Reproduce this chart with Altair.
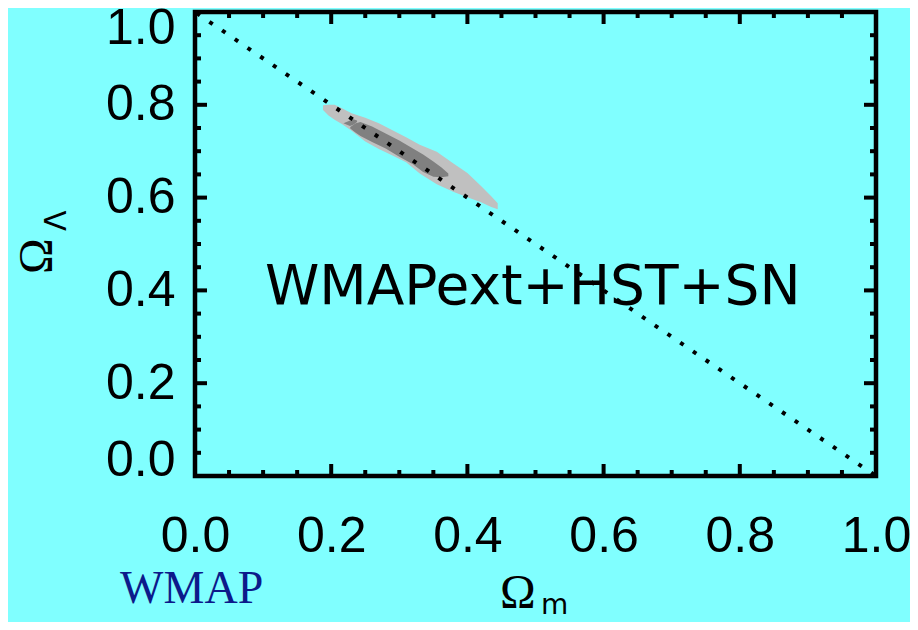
import altair as alt
import pandas as pd

# ---- data ----
outer_x = [0.188, 0.196, 0.205, 0.215, 0.230, 0.250, 0.270, 0.290, 0.310, 0.330, 0.355, 0.380, 0.400, 0.420, 0.435, 0.4445]
outer_top = [0.799, 0.800, 0.800, 0.793, 0.782, 0.772, 0.760, 0.745, 0.730, 0.714, 0.699, 0.673, 0.653, 0.625, 0.603, 0.588]
outer_bot = [0.789, 0.777, 0.768, 0.759, 0.744, 0.721, 0.705, 0.691, 0.676, 0.652, 0.629, 0.612, 0.601, 0.590, 0.580, 0.575]

inner_x = [0.228, 0.236, 0.243, 0.260, 0.280, 0.300, 0.320, 0.335, 0.350, 0.362, 0.372]
inner_top = [0.752, 0.760, 0.763, 0.753, 0.738, 0.723, 0.706, 0.693, 0.678, 0.665, 0.652]
inner_bot = [0.749, 0.740, 0.733, 0.720, 0.706, 0.688, 0.672, 0.655, 0.645, 0.644, 0.646]

piece_x = [0.218, 0.2276, 0.2325, 0.238]
piece_top = [0.760, 0.766, 0.769, 0.766]
piece_bot = [0.760, 0.7545, 0.757, 0.763]

flat_x = [0.0, 1.0]
flat_y = [1.0, 0.0]

tick_labels = [0.0, 0.2, 0.4, 0.6, 0.8, 1.0]
major_ticks = [0.0, 0.2, 0.4, 0.6, 0.8, 1.0]
minor_ticks = [0.05, 0.10, 0.15, 0.25, 0.30, 0.35, 0.45, 0.50, 0.55,
               0.65, 0.70, 0.75, 0.85, 0.90, 0.95]

W, H = 681, 464
FONT = "DejaVu Sans"
LFONT = "Liberation Sans"
BG = "#80ffff"

outer_df = pd.DataFrame({"x": outer_x, "top": outer_top, "bot": outer_bot})
inner_df = pd.DataFrame({"x": inner_x, "top": inner_top, "bot": inner_bot})
piece_df = pd.DataFrame({"x": piece_x, "top": piece_top, "bot": piece_bot})
flat_df = pd.DataFrame({"x": flat_x, "y": flat_y})
major_df = pd.DataFrame({"v": major_ticks})
minor_df = pd.DataFrame({"v": minor_ticks})

xs = alt.Scale(domain=[0, 1], nice=False, zero=False)
ys = alt.Scale(domain=[0, 1], nice=False, zero=False)

axis_common = dict(values=tick_labels, format=".1f", ticks=False, tickSize=0,
                   domain=False, grid=False, labelFontSize=50, labelFont=LFONT,
                   labelColor="black", title=None, labelOverlap=False)
XAX = alt.Axis(labelFlush=False, labelPadding=35, **axis_common)
YAX = alt.Axis(labelFlush=True, labelFlushOffset=9, labelPadding=20, **axis_common)


def X(field):
    return alt.X(field, scale=xs, axis=XAX, title=None)


def Y(field):
    return alt.Y(field, scale=ys, axis=YAX, title=None)


outer = alt.Chart(outer_df).mark_area(color="#c0c0c0", opacity=1).encode(
    x=X("x:Q"), y=Y("top:Q"), y2="bot:Q")
inner = alt.Chart(inner_df).mark_area(color="#808080", opacity=1).encode(
    x=X("x:Q"), y=Y("top:Q"), y2="bot:Q")
piece = alt.Chart(piece_df).mark_area(color="#808080", opacity=1).encode(
    x=X("x:Q"), y=Y("top:Q"), y2="bot:Q")
flat = alt.Chart(flat_df).mark_line(color="black", strokeWidth=4, strokeDash=[4, 11.4],
                                    strokeCap="butt", strokeDashOffset=-2).encode(
    x=X("x:Q"), y=Y("y:Q"))


def xticks(df, length):
    b = alt.Chart(df).mark_rule(color="black", strokeWidth=4).encode(
        x=X("v:Q"), y=alt.value(H), y2=alt.value(H - length))
    t = alt.Chart(df).mark_rule(color="black", strokeWidth=4).encode(
        x=X("v:Q"), y=alt.value(0), y2=alt.value(length))
    return b + t


def yticks(df, length):
    l = alt.Chart(df).mark_rule(color="black", strokeWidth=4).encode(
        y=Y("v:Q"), x=alt.value(0), x2=alt.value(length))
    r = alt.Chart(df).mark_rule(color="black", strokeWidth=4).encode(
        y=Y("v:Q"), x=alt.value(W), x2=alt.value(W - length))
    return l + r


ticks = xticks(major_df, 12) + xticks(minor_df, 6) + yticks(major_df, 12) + yticks(minor_df, 6)


def label(text, x, y, size, font=FONT, color="black", angle=0, align="center",
          baseline="alphabetic"):
    df = pd.DataFrame({"x": [x], "y": [y], "t": [text]})
    return alt.Chart(df).mark_text(fontSize=size, font=font, color=color, angle=angle,
                                   align=align, baseline=baseline).encode(
        x=X("x:Q"), y=Y("y:Q"), text="t:N")


texts = (
    label("WMAPext+HST+SN", 0.496, 0.371, 55)
    + label("WMAP", -0.110, -0.274, 46, font="Liberation Serif", color="#0c1a8a", align="left")
    + label("Ω", 0.474, -0.284, 48, font="Liberation Serif")
    + label("m", 0.508, -0.297, 28, align="left")
    + label("Ω", -0.230, 0.474, 48, font="Liberation Serif", angle=270, baseline="middle")
    + label("Λ", -0.203, 0.550, 30, angle=270, baseline="middle")
)

chart = alt.layer(outer, inner, piece, flat, ticks, texts).properties(
    width=W, height=H,
    autosize=alt.AutoSizeParams(type="none"),
    padding={"left": 187, "top": 4, "right": 34, "bottom": 146},
).configure(background=BG).configure_view(stroke="black", strokeWidth=4.5)

chart.save("out.html", embed_options={"renderer": "svg", "actions": False})
